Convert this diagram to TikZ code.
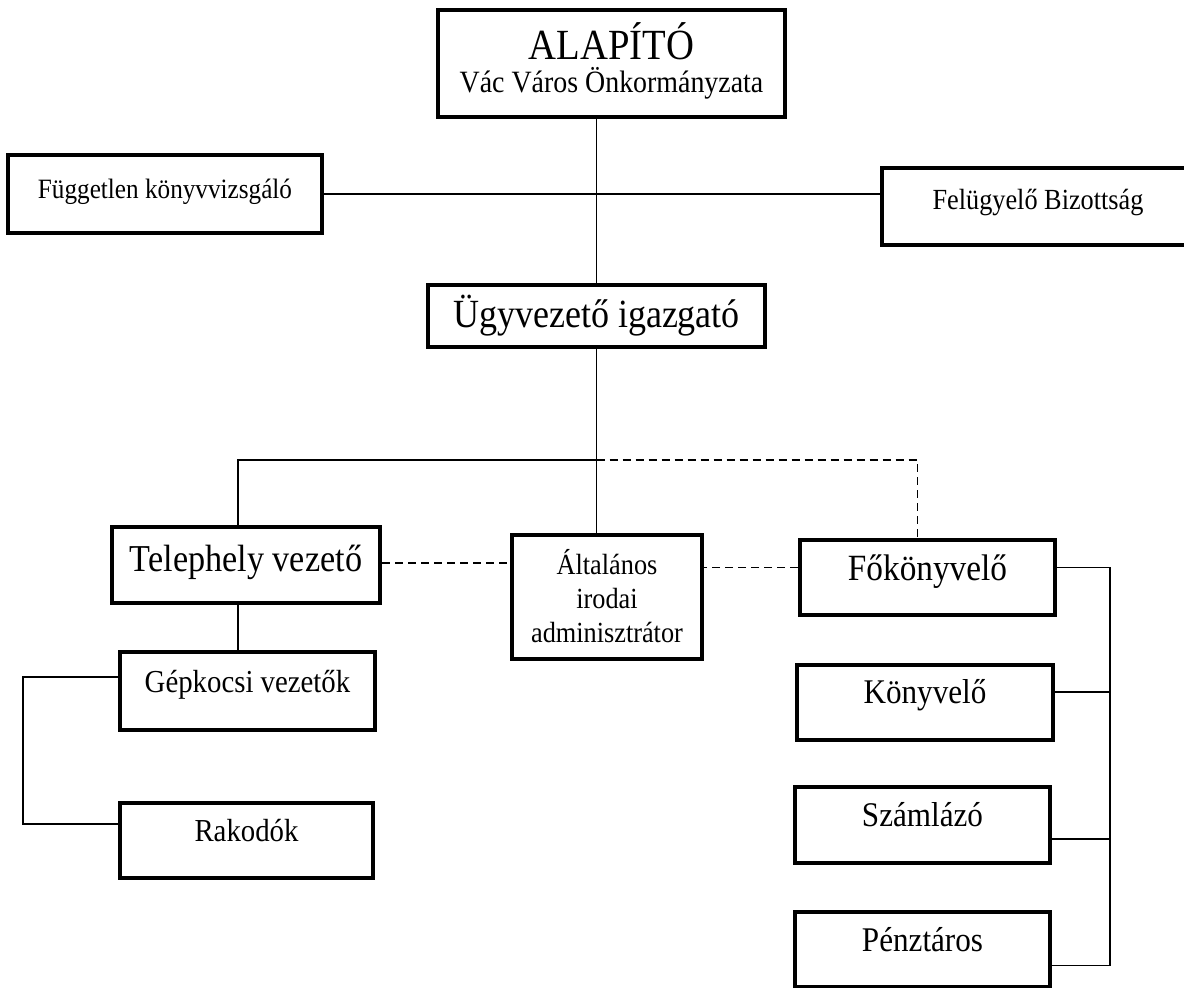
\documentclass[tikz,border=0pt]{standalone}
\usepackage{fontspec}
\setmainfont[FakeStretch=0.9]{Liberation Serif}
\usetikzlibrary{positioning}
\newcommand{\fs}[2]{\fontsize{#1}{#2}\selectfont}
\tikzset{
  box/.style={draw, line width=2pt, rectangle, align=center, inner sep=0pt},
  lift/.style 2 args={text height=#1, text depth=#2},
  link/.style={line width=0.75pt},
  dlink/.style={line width=0.9pt, dash pattern=on 4pt off 2.5pt},
}
\begin{document}
\begin{tikzpicture}[x=0.5pt,y=-0.5pt]
  \useasboundingbox (0,0) rectangle (1184,987);
  % top level
  \node[box, minimum width=173.5pt, minimum height=53.5pt, text depth=6pt, font=\fs{15.5pt}{16.5pt}] (alapito) at (611.5,63.5)
    {{\fs{21.5pt}{24pt}ALAPÍTÓ}\\Vác Város Önkormányzata};
  \node[box, minimum width=157pt, minimum height=39pt, lift={10.5pt}{6.2pt}, font=\fs{14pt}{16pt}] (fuggetlen) at (165,194)
    {Független könyvvizsgáló};
  \node[box, minimum width=156pt, minimum height=38.5pt, lift={10.8pt}{7pt}, font=\fs{14.6pt}{16pt}] (felugyelo) at (1038,206)
    {Felügyelő Bizottság};
  \node[box, minimum width=168.5pt, minimum height=31pt, lift={15pt}{4pt}, font=\fs{20pt}{22pt}] (ugyvezeto) at (596.5,316)
    {Ügyvezető igazgató};
  % second row
  \node[box, minimum width=134pt, minimum height=38pt, lift={14pt}{8pt}, font=\fs{19pt}{21pt}] (telephely) at (246,565)
    {Telephely vezető};
  \node[box, minimum width=95pt, minimum height=62pt, text depth=1pt, font=\fs{14.6pt}{17pt}] (altalanos) at (607,596.5)
    {Általános\\irodai\\adminisztrátor};
  \node[box, minimum width=127.5pt, minimum height=37.5pt, lift={13.8pt}{11pt}, font=\fs{18.5pt}{20pt}] (fokonyvelo) at (927.5,577.5)
    {Főkönyvelő};
  % left branch
  \node[box, minimum width=127.5pt, minimum height=39pt, lift={12pt}{11pt}, font=\fs{16pt}{18pt}] (gepkocsi) at (247.5,691)
    {Gépkocsi vezetők};
  \node[box, minimum width=126.5pt, minimum height=37.5pt, lift={12pt}{11pt}, font=\fs{16pt}{18pt}] (rakodok) at (246.5,840)
    {Rakodók};
  % right branch
  \node[box, minimum width=128pt, minimum height=37.5pt, lift={13pt}{11.5pt}, font=\fs{17.3pt}{20pt}] (konyvelo) at (925,702)
    {Könyvelő};
  \node[box, minimum width=127.5pt, minimum height=38pt, lift={13pt}{11.5pt}, font=\fs{17.3pt}{20pt}] (szamlazo) at (922.5,825)
    {Számlázó};
  \node[box, minimum width=127.5pt, minimum height=37.5pt, lift={13pt}{11pt}, font=\fs{17.3pt}{20pt}] (penztaros) at (922.5,949.5)
    {Pénztáros};
  % connectors
  \draw[link] (alapito.south -| ugyvezeto.north) -- (ugyvezeto.north);
  \draw[link] (fuggetlen.east) -- (fuggetlen.east -| felugyelo.west);
  \path (ugyvezeto.south) ++(0,111) coordinate (bus);
  \draw[link] (ugyvezeto.south) -- (ugyvezeto.south |- altalanos.north);
  \draw[link] (bus) -| ([xshift=-4pt]telephely.north);
  \draw[dlink] (bus) -| ([xshift=-5pt]fokonyvelo.north);
  \draw[dlink] ([yshift=1pt]telephely.east) -- ([yshift=1pt]telephely.east -| altalanos.west);
  \draw[dlink] ([yshift=5pt]fokonyvelo.west) -- ([yshift=5pt]fokonyvelo.west -| altalanos.east);
  \draw[link] ([xshift=-4pt]telephely.south) -- ([xshift=-4pt]telephely.south |- gepkocsi.north);
  \draw[link] ([yshift=7pt]gepkocsi.west) -- ++(-95,0) |- ([yshift=8pt]rakodok.west);
  \coordinate (rbus) at (1110,0);
  \draw[link] ([yshift=5pt]fokonyvelo.east) -| ([yshift=-8pt]penztaros.east -| rbus) -- ([yshift=-8pt]penztaros.east);
  \foreach \n/\s in {konyvelo/5pt, szamlazo/-7pt}
    \draw[link] ([yshift=\s]\n.east) -- ([yshift=\s]\n.east -| rbus);
\end{tikzpicture}
\end{document}
